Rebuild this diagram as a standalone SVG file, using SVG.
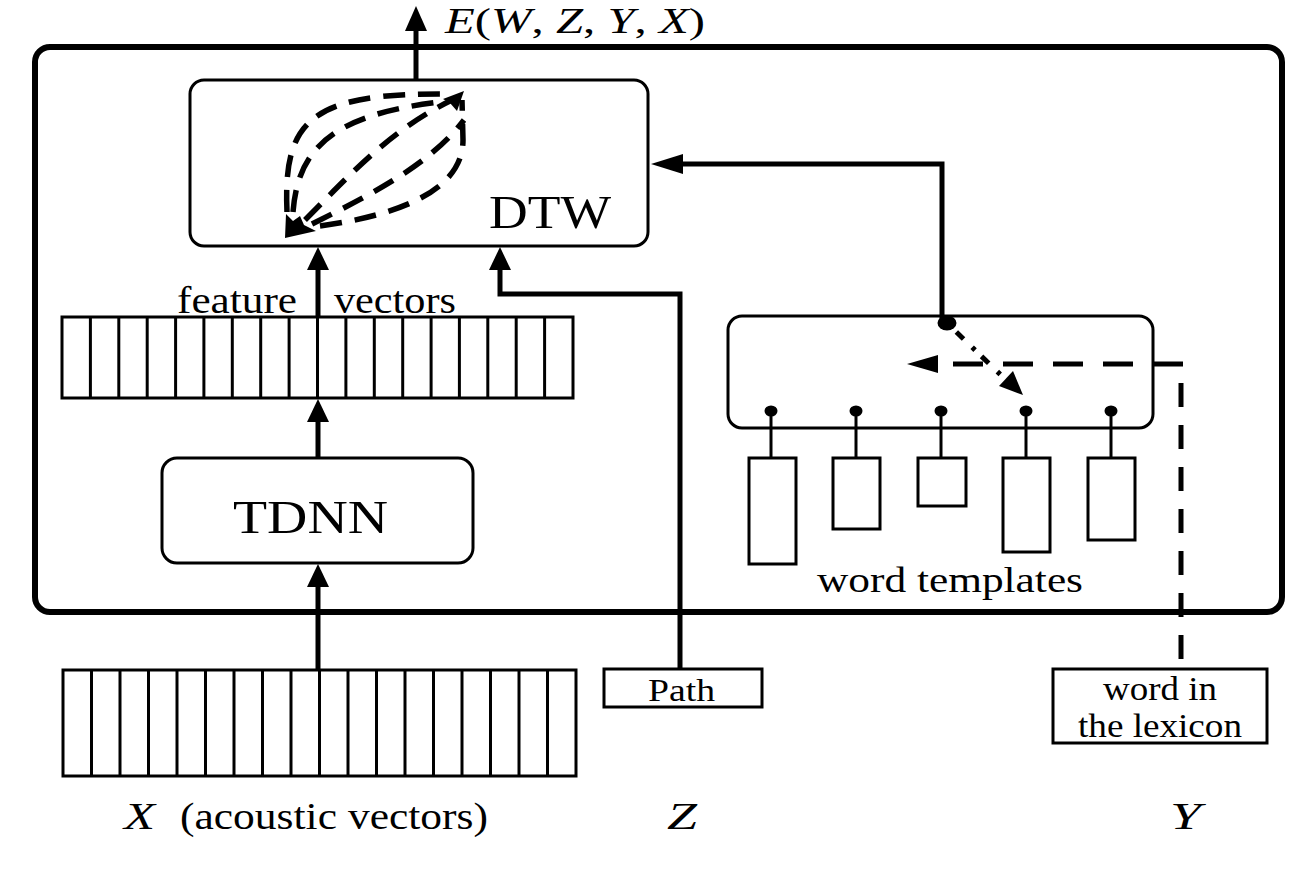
<svg xmlns="http://www.w3.org/2000/svg" width="1302" height="876" viewBox="0 0 1302 876">
<style>
  .t { font-family: "Liberation Serif", "Times New Roman", serif; fill: #000; }
  .it { font-style: italic; }
  .box { fill: #fff; stroke: #000; stroke-width: 3; }
  .thick { fill: none; stroke: #000; stroke-width: 5; }
  .cell { stroke: #000; stroke-width: 3; }
  .dtwdash { fill: none; stroke: #000; stroke-width: 5.5; stroke-dasharray: 22 13; }
  .ah { fill: #000; }
</style>
<rect width="1302" height="876" fill="#fff"/>

<g id="outer">
  <rect x="35" y="47" width="1247" height="565" rx="15" fill="none" stroke="#000" stroke-width="6"/>
</g>

<g id="dtw">
  <rect class="box" x="190" y="80" width="458" height="166" rx="14"/>
  <text class="t" x="489" y="228" font-size="46" textLength="122" lengthAdjust="spacingAndGlyphs">DTW</text>
  <path class="dtwdash" d="M287,212 C283,120 310,92 452,94"/>
  <path class="dtwdash" d="M293,212 C298,150 330,115 440,102"/>
  <path class="dtwdash" d="M305,220 C350,175 390,130 452,100"/>
  <path class="dtwdash" d="M312,224 C370,195 430,165 464,120"/>
  <path class="dtwdash" d="M320,226 C400,215 463,190 463,140 L462,100"/>
  <polygon class="ah" points="285,238 286,214 293,221 300,216 304,225 316,231"/>
  <polygon class="ah" points="464,91 443,99 450,103 457,111"/>
</g>

<g id="feature-vectors">
  <rect class="box" x="62" y="317" width="511" height="81"/>
  <g class="cell">
    <line x1="90.4" y1="317" x2="90.4" y2="398"/><line x1="118.8" y1="317" x2="118.8" y2="398"/>
    <line x1="147.2" y1="317" x2="147.2" y2="398"/><line x1="175.6" y1="317" x2="175.6" y2="398"/>
    <line x1="203.9" y1="317" x2="203.9" y2="398"/><line x1="232.3" y1="317" x2="232.3" y2="398"/>
    <line x1="260.7" y1="317" x2="260.7" y2="398"/><line x1="289.1" y1="317" x2="289.1" y2="398"/>
    <line x1="317.5" y1="317" x2="317.5" y2="398"/><line x1="345.9" y1="317" x2="345.9" y2="398"/>
    <line x1="374.3" y1="317" x2="374.3" y2="398"/><line x1="402.7" y1="317" x2="402.7" y2="398"/>
    <line x1="431.1" y1="317" x2="431.1" y2="398"/><line x1="459.4" y1="317" x2="459.4" y2="398"/>
    <line x1="487.8" y1="317" x2="487.8" y2="398"/><line x1="516.2" y1="317" x2="516.2" y2="398"/>
    <line x1="544.6" y1="317" x2="544.6" y2="398"/>
  </g>
  <text class="t" x="177" y="313" font-size="37" textLength="120" lengthAdjust="spacingAndGlyphs">feature</text>
  <text class="t" x="334" y="313" font-size="37" textLength="122" lengthAdjust="spacingAndGlyphs">vectors</text>
</g>

<g id="tdnn">
  <rect class="box" x="162" y="458" width="311" height="105" rx="15"/>
  <text class="t" x="233" y="533" font-size="46" textLength="155" lengthAdjust="spacingAndGlyphs">TDNN</text>
</g>

<g id="acoustic-vectors">
  <rect class="box" x="63" y="670" width="513" height="106"/>
  <g class="cell">
    <line x1="91.5" y1="670" x2="91.5" y2="776"/><line x1="120" y1="670" x2="120" y2="776"/>
    <line x1="148.5" y1="670" x2="148.5" y2="776"/><line x1="177" y1="670" x2="177" y2="776"/>
    <line x1="205.5" y1="670" x2="205.5" y2="776"/><line x1="234" y1="670" x2="234" y2="776"/>
    <line x1="262.5" y1="670" x2="262.5" y2="776"/><line x1="291" y1="670" x2="291" y2="776"/>
    <line x1="319.5" y1="670" x2="319.5" y2="776"/><line x1="348" y1="670" x2="348" y2="776"/>
    <line x1="376.5" y1="670" x2="376.5" y2="776"/><line x1="405" y1="670" x2="405" y2="776"/>
    <line x1="433.5" y1="670" x2="433.5" y2="776"/><line x1="462" y1="670" x2="462" y2="776"/>
    <line x1="490.5" y1="670" x2="490.5" y2="776"/><line x1="519" y1="670" x2="519" y2="776"/>
    <line x1="547.5" y1="670" x2="547.5" y2="776"/>
  </g>
</g>

<g id="path-box">
  <rect class="box" x="604" y="669" width="158" height="38"/>
  <text class="t" x="648" y="701" font-size="31" textLength="67" lengthAdjust="spacingAndGlyphs">Path</text>
</g>

<g id="lexicon-box">
  <rect class="box" x="1053" y="669" width="214" height="74"/>
  <text class="t" x="1103" y="700" font-size="33" textLength="114" lengthAdjust="spacingAndGlyphs">word in</text>
  <text class="t" x="1078" y="737" font-size="33" textLength="164" lengthAdjust="spacingAndGlyphs">the lexicon</text>
</g>

<g id="word-templates">
  <rect class="box" x="728" y="316" width="425" height="112" rx="14"/>
  <g stroke="#000" stroke-width="3">
    <line x1="771" y1="411" x2="771" y2="458"/>
    <line x1="856" y1="411" x2="856" y2="458"/>
    <line x1="941" y1="411" x2="941" y2="458"/>
    <line x1="1026" y1="411" x2="1026" y2="458"/>
    <line x1="1111" y1="411" x2="1111" y2="458"/>
  </g>
  <g fill="#000">
    <ellipse cx="771" cy="411" rx="6.5" ry="5.5"/>
    <ellipse cx="856" cy="411" rx="6.5" ry="5.5"/>
    <ellipse cx="941" cy="411" rx="6.5" ry="5.5"/>
    <ellipse cx="1026" cy="411" rx="6.5" ry="5.5"/>
    <ellipse cx="1111" cy="411" rx="6.5" ry="5.5"/>
  </g>
  <rect class="box" x="749" y="458" width="47" height="106"/>
  <rect class="box" x="833" y="458" width="47" height="71"/>
  <rect class="box" x="918" y="458" width="48" height="48"/>
  <rect class="box" x="1003" y="458" width="47" height="94"/>
  <rect class="box" x="1088" y="458" width="47" height="82"/>
  <text class="t" x="817" y="592" font-size="35" textLength="266" lengthAdjust="spacingAndGlyphs">word templates</text>
</g>

<g id="connectors">
  <!-- output arrow -->
  <line class="thick" x1="416" y1="80" x2="416" y2="28"/>
  <polygon class="ah" points="416,6 405,31 427,31"/>
  <!-- feature vectors -> DTW -->
  <line class="thick" x1="318" y1="317" x2="318" y2="268"/>
  <polygon class="ah" points="318,247 307,270 329,270"/>
  <!-- TDNN -> feature vectors -->
  <line class="thick" x1="318" y1="458" x2="318" y2="420"/>
  <polygon class="ah" points="318,399 307,422 329,422"/>
  <!-- acoustic -> TDNN -->
  <line class="thick" x1="318" y1="670" x2="318" y2="585"/>
  <polygon class="ah" points="318,564 307,587 329,587"/>
  <!-- Path -> DTW -->
  <polyline class="thick" points="680,669 680,294 500,294 500,268"/>
  <polygon class="ah" points="500,247 489,270 511,270"/>
  <!-- templates -> DTW -->
  <polyline class="thick" points="942,322 942,164 680,164"/>
  <polygon class="ah" points="651,164 683,154 683,174"/>
  <ellipse cx="947" cy="323" rx="9.5" ry="7.5" fill="#000"/>
  <!-- selection diagonal -->
  <line x1="947" y1="323" x2="1006" y2="380" stroke="#000" stroke-width="5" stroke-dasharray="4 9 10 12"/>
  <polygon class="ah" points="1023,395 999,386 1013,371"/>
  <!-- word in lexicon dashed -->
  <line x1="1181" y1="659" x2="1181" y2="383" stroke="#000" stroke-width="5" stroke-dasharray="24 18"/>
  <line x1="1183" y1="364" x2="936" y2="364" stroke="#000" stroke-width="5" stroke-dasharray="30 20"/>
  <polygon class="ah" points="907,364 938,355 938,373"/>
</g>

<g id="labels">
  <text class="t" x="445" y="33" font-size="36" textLength="260" lengthAdjust="spacingAndGlyphs"><tspan class="it">E</tspan>(<tspan class="it">W</tspan>, <tspan class="it">Z</tspan>, <tspan class="it">Y</tspan>, <tspan class="it">X</tspan>)</text>
  <text class="t it" x="124" y="829" font-size="38" textLength="31" lengthAdjust="spacingAndGlyphs">X</text>
  <text class="t" x="180" y="829" font-size="38" textLength="308" lengthAdjust="spacingAndGlyphs">(acoustic vectors)</text>
  <text class="t it" x="667" y="829" font-size="38" textLength="30" lengthAdjust="spacingAndGlyphs">Z</text>
  <text class="t it" x="1170" y="829" font-size="38" textLength="31" lengthAdjust="spacingAndGlyphs">Y</text>
</g>
</svg>
